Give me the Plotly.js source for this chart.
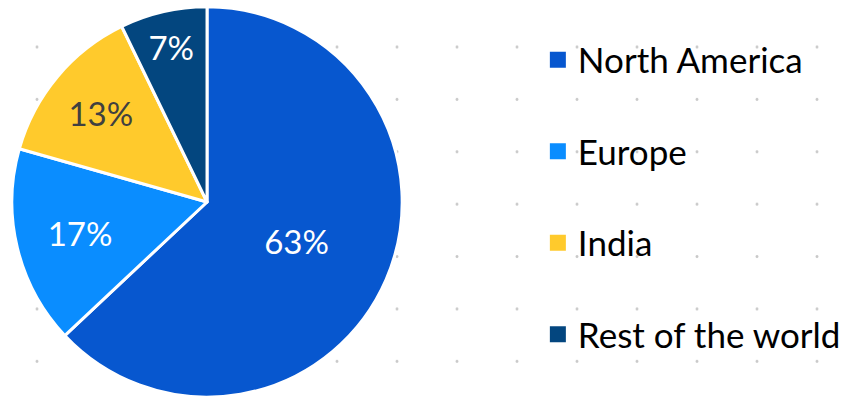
<!DOCTYPE html>
<html>
<head>
<meta charset="utf-8">
<script src="https://cdn.plot.ly/plotly-3.0.1.min.js"></script>
<style>
  html, body { margin: 0; padding: 0; background: #ffffff; }
  #chart {
    width: 846px; height: 400px;
    background-color: #ffffff;
    background-image: radial-gradient(circle, #c4c4c4 0, #cfcfcf 1.1px, rgba(255,255,255,0) 1.9px);
    background-size: 60px 52.4px;
    background-position: 7px 20.8px;
  }
</style>
</head>
<body>
<div id="chart"></div>
<script>
const categories = ["North America", "Europe", "India", "Rest of the world"];
const shares = [63, 16.4, 13.4, 7.2];
// data labels as printed on the chart
const shareLabels = ["63%", "17%", "13%", "7%"];
const colors = ["#0757CF", "#0A8DFF", "#FFCA2C", "#03467F"];
const labelColors = ["#ffffff", "#ffffff", "#404040", "#ffffff"];

const FONT = "Lato, 'Open Sans', sans-serif";

const traces = [{
  type: "pie",
  labels: categories,
  values: shares,
  text: shareLabels,
  sort: false,
  direction: "clockwise",
  rotation: 0,
  marker: { colors: colors, line: { color: "#ffffff", width: 3 } },
  textinfo: "text",
  textposition: "inside",
  insidetextorientation: "horizontal",
  textfont: { family: FONT, size: 33, color: labelColors },
  hoverinfo: "label+text",
  showlegend: false,
  domain: { x: [12 / 846, 406 / 846], y: [0.0025, 0.9875] }
}];

categories.forEach((name, i) => {
  traces.push({
    type: "scatter",
    mode: "markers",
    x: [null], y: [null],
    name: name,
    legendgroup: "g" + i,
    marker: { symbol: "square", size: 16, color: colors[i] },
    showlegend: true,
    hoverinfo: "skip"
  });
});

const layout = {
  width: 846, height: 400,
  margin: { l: 0, r: 0, t: 0, b: 0 },
  paper_bgcolor: "rgba(0,0,0,0)",
  plot_bgcolor: "rgba(0,0,0,0)",
  xaxis: { visible: false, domain: [0.6, 0.61] },
  yaxis: { visible: false, domain: [0.5, 0.51] },
  showlegend: true,
  legend: {
    x: 543 / 846, xanchor: "left",
    y: 1 - 30.5 / 400, yanchor: "top",
    font: { family: FONT, size: 35, color: "#000000" },
    bgcolor: "rgba(0,0,0,0)",
    traceorder: "grouped",
    tracegroupgap: 43,
    itemclick: false, itemdoubleclick: false
  }
};

Plotly.newPlot("chart", traces, layout, { staticPlot: true, displayModeBar: false });
</script>
</body>
</html>
